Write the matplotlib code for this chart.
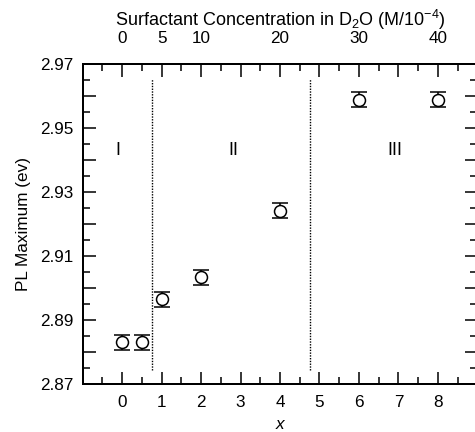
import numpy as np
import matplotlib
matplotlib.use('Agg')
import matplotlib.pyplot as plt
from matplotlib.ticker import MultipleLocator, FuncFormatter

plt.rcParams['font.family'] = ['Liberation Sans', 'DejaVu Sans']
plt.rcParams['mathtext.default'] = 'regular'

# data
x_vals = [0, 0.5, 1, 2, 4, 6, 8]
pl_max = [2.883, 2.883, 2.8965, 2.9034, 2.9242, 2.959, 2.959]
pl_err = [0.0024, 0.0024, 0.0024, 0.0024, 0.0024, 0.0024, 0.0024]

top_tick_pos = [0, 1, 2, 4, 6, 8]
top_tick_labels = ['0', '5', '10', '20', '30', '40']

boundaries = [0.75, 4.75]
region_names = ['I', 'II', 'III']
region_x = [-0.1, 2.82, 6.92]
region_y = 2.943

fs = 12.3

fig = plt.figure(figsize=(4.75, 4.32), dpi=100)
ax = fig.add_axes([0.174, 0.111, 0.831, 0.740])

ax.errorbar(x_vals, pl_max, yerr=pl_err, fmt='o', mfc='white', mec='black',
            mew=1.1, ms=8.6, ecolor='black', elinewidth=1.1, capsize=5.8,
            capthick=1.2, color='black', zorder=3)

for b in boundaries:
    ax.plot([b, b], [2.8745, 2.9655], color='black', lw=1.0,
            linestyle=(0, (1, 1)))

for name, rx in zip(region_names, region_x):
    ax.text(rx, region_y, name, ha='center', va='center', fontsize=13)

ax.set_xlim(-1, 9)
ax.set_ylim(2.87, 2.97)

ax.xaxis.set_major_locator(MultipleLocator(1))
ax.xaxis.set_minor_locator(MultipleLocator(0.5))
ax.xaxis.set_major_formatter(FuncFormatter(
    lambda v, p: '%d' % round(v) if -0.1 < v < 8.1 else ''))
ax.yaxis.set_major_locator(MultipleLocator(0.01))
ax.yaxis.set_minor_locator(MultipleLocator(0.005))
ax.yaxis.set_major_formatter(FuncFormatter(
    lambda v, p: '%.2f' % v if round((v - 2.87) / 0.01) % 2 == 0 else ''))

ax.tick_params(which='both', direction='in', top=False, right=True,
               width=1.1, labelsize=fs)
ax.tick_params(which='major', length=9)
ax.tick_params(which='minor', length=4.8)
ax.tick_params(axis='x', which='major', pad=8)
ax.tick_params(axis='y', which='major', pad=6.5)

for s in ax.spines.values():
    s.set_linewidth(1.4)

ax.set_xlabel('x', fontstyle='italic', fontsize=fs, labelpad=5)
ax.set_ylabel('PL Maximum (ev)', fontsize=fs, labelpad=7)

top = ax.twiny()
top.set_xlim(ax.get_xlim())
top.xaxis.set_major_locator(MultipleLocator(1))
top.xaxis.set_minor_locator(MultipleLocator(0.5))
labels = {p: l for p, l in zip(top_tick_pos, top_tick_labels)}
top.xaxis.set_major_formatter(FuncFormatter(
    lambda v, p: labels.get(int(round(v)), '') if abs(v - round(v)) < 1e-6 else ''))
top.tick_params(which='both', direction='in', width=1.1, labelsize=fs)
top.tick_params(which='major', length=9, pad=13)
top.tick_params(which='minor', length=4.8)
for s in top.spines.values():
    s.set_linewidth(1.4)
top.set_xlabel('Surfactant Concentration in D$_2$O (M/10$^{-4}$)',
               fontsize=13, labelpad=3.5)

fig.savefig('out.png', dpi=100)
